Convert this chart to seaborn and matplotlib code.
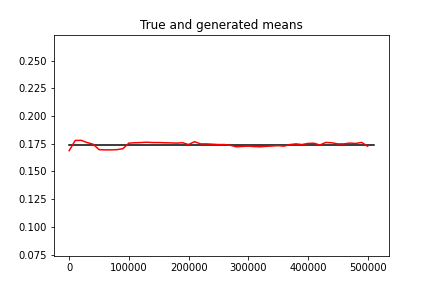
import numpy as np
import pandas as pd
import matplotlib
matplotlib.use("Agg")
import matplotlib.pyplot as plt
import seaborn as sns

# iteration steps and generated means
steps = list(range(0, 510000, 10000))
gen_means = [0.1687, 0.1779, 0.1780, 0.1760, 0.1745, 0.1696, 0.1694, 0.1694, 0.1696, 0.1705,
             0.1755, 0.1758, 0.1760, 0.1763, 0.1760, 0.1760, 0.1758, 0.1757, 0.1755, 0.1758,
             0.1742, 0.1768, 0.1748, 0.1748, 0.1745, 0.1742, 0.1742, 0.1735, 0.1722, 0.1725,
             0.1728, 0.1724, 0.1722, 0.1726, 0.1729, 0.1732, 0.1728, 0.1742, 0.1748, 0.1742,
             0.1752, 0.1754, 0.1738, 0.1761, 0.1758, 0.1748, 0.1748, 0.1755, 0.1752, 0.1761,
             0.1727]
true_mean = 0.1734
true_x = [0, 510000]

df = pd.DataFrame({"step": steps, "mean": gen_means})
true_df = pd.DataFrame({"step": true_x, "mean": [true_mean, true_mean]})

fig, ax = plt.subplots(figsize=(6, 4), dpi=72)
sns.lineplot(data=true_df, x="step", y="mean", color="k", linewidth=1.5, ax=ax)
sns.lineplot(data=df, x="step", y="mean", color="red", linewidth=1.5, ax=ax)
ax.set_ylim(true_mean - 0.1, true_mean + 0.1)
ax.set_xlabel("")
ax.set_ylabel("")
ax.set_title("True and generated means")
fig.savefig("out.png", dpi=72)
